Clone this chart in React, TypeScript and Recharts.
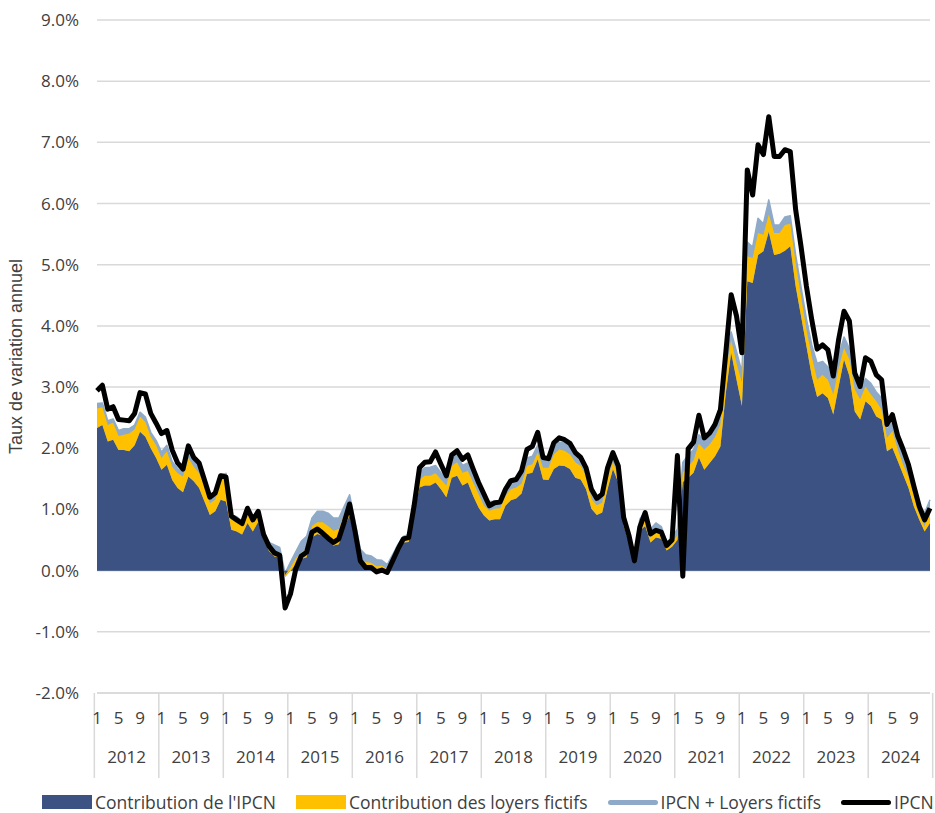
import { Area, CartesianGrid, ComposedChart, Line, XAxis, YAxis } from 'recharts'

const years = [2012, 2013, 2014, 2015, 2016, 2017, 2018, 2019, 2020, 2021, 2022, 2023, 2024]
const months = [1, 2, 3, 4, 5, 6, 7, 8, 9, 10, 11, 12]
const shownMonths = [1, 5, 9]
const yTicks = [-2, -1, 0, 1, 2, 3, 4, 5, 6, 7, 8, 9]

// contribution de l'IPCN (zone bleue)
const contribIpcn = [
  2.33, 2.38, 2.11, 2.14, 1.97, 1.97, 1.95, 2.05, 2.27, 2.19, 2.0, 1.84,
  1.65, 1.73, 1.48, 1.35, 1.28, 1.54, 1.46, 1.35, 1.13, 0.91, 0.97, 1.16,
  1.13, 0.67, 0.64, 0.59, 0.78, 0.64, 0.8, 0.51, 0.32, 0.23, 0.21, -0.1,
  0.0, 0.1, 0.19, 0.22, 0.54, 0.6, 0.57, 0.52, 0.41, 0.43, 0.71, 0.9,
  0.52, 0.14, 0.08, 0.08, 0.03, 0.04, 0.0, 0.16, 0.33, 0.46, 0.47, 0.95,
  1.36, 1.39, 1.39, 1.44, 1.33, 1.2, 1.52, 1.55, 1.39, 1.44, 1.22, 1.03,
  0.9, 0.82, 0.84, 0.84, 1.06, 1.15, 1.18, 1.26, 1.58, 1.6, 1.82, 1.49,
  1.48, 1.66, 1.72, 1.71, 1.66, 1.52, 1.49, 1.33, 1.01, 0.91, 0.95, 1.33,
  1.66, 1.44, 0.73, 0.46, 0.14, 0.65, 0.73, 0.46, 0.54, 0.52, 0.33, 0.39,
  0.5, 1.45, 1.52, 1.6, 1.85, 1.65, 1.76, 1.87, 2.03, 2.9, 3.56, 3.12,
  2.69, 4.73, 4.7, 5.16, 5.22, 5.54, 5.16, 5.18, 5.23, 5.3, 4.65, 4.16,
  3.67, 3.18, 2.84, 2.9, 2.82, 2.55, 3.01, 3.45, 3.18, 2.6, 2.47, 2.77,
  2.69, 2.52, 2.47, 1.95, 2.01, 1.79, 1.57, 1.35, 1.05, 0.83, 0.64, 0.78,
]

// contribution des loyers fictifs (zone jaune)
const contribLoyers = [
  0.32, 0.29, 0.27, 0.28, 0.23, 0.25, 0.29, 0.26, 0.25, 0.24, 0.19, 0.21,
  0.19, 0.22, 0.22, 0.24, 0.26, 0.3, 0.24, 0.24, 0.25, 0.19, 0.19, 0.32,
  0.38, 0.16, 0.16, 0.16, 0.16, 0.14, 0.11, 0.08, 0.05, 0.07, 0.02, 0.03,
  0.05, 0.1, 0.11, 0.13, 0.19, 0.19, 0.22, 0.21, 0.24, 0.25, 0.21, 0.19,
  0.11, 0.05, 0.06, 0.05, 0.04, 0.04, 0.03, 0.03, 0.03, 0.04, 0.06, 0.08,
  0.13, 0.16, 0.16, 0.15, 0.16, 0.19, 0.19, 0.22, 0.21, 0.19, 0.22, 0.22,
  0.16, 0.16, 0.17, 0.18, 0.16, 0.18, 0.18, 0.16, 0.13, 0.14, 0.11, 0.19,
  0.2, 0.24, 0.26, 0.25, 0.24, 0.25, 0.22, 0.22, 0.16, 0.16, 0.16, 0.19,
  0.11, 0.11, 0.09, 0.06, 0.02, 0.11, 0.11, 0.08, 0.11, 0.08, 0.05, 0.07,
  0.08, 0.15, 0.18, 0.2, 0.23, 0.33, 0.3, 0.32, 0.36, 0.33, 0.21, 0.27,
  0.38, 0.41, 0.41, 0.36, 0.27, 0.28, 0.36, 0.34, 0.42, 0.37, 0.38, 0.32,
  0.27, 0.32, 0.28, 0.3, 0.3, 0.33, 0.3, 0.19, 0.27, 0.36, 0.33, 0.24,
  0.19, 0.25, 0.16, 0.22, 0.27, 0.19, 0.16, 0.19, 0.17, 0.09, 0.08, 0.22,
]

// IPCN + loyers fictifs
const ipcnLoyers = [
  2.73, 2.74, 2.45, 2.48, 2.29, 2.32, 2.32, 2.38, 2.59, 2.51, 2.26, 2.13,
  1.94, 2.05, 1.78, 1.67, 1.6, 1.95, 1.78, 1.69, 1.45, 1.2, 1.24, 1.57,
  1.59, 0.91, 0.88, 0.81, 1.01, 0.85, 0.99, 0.66, 0.46, 0.42, 0.38, -0.04,
  0.14, 0.31, 0.48, 0.56, 0.86, 0.97, 0.97, 0.94, 0.86, 0.86, 1.05, 1.24,
  0.81, 0.35, 0.26, 0.24, 0.18, 0.17, 0.1, 0.26, 0.43, 0.56, 0.59, 1.11,
  1.61, 1.68, 1.69, 1.72, 1.6, 1.51, 1.84, 1.9, 1.72, 1.76, 1.57, 1.38,
  1.19, 1.13, 1.13, 1.12, 1.35, 1.44, 1.47, 1.54, 1.84, 1.87, 2.05, 1.8,
  1.8, 2.02, 2.1, 2.09, 2.02, 1.88, 1.82, 1.64, 1.27, 1.17, 1.2, 1.62,
  1.85, 1.64, 0.92, 0.62, 0.24, 0.84, 0.97, 0.68, 0.78, 0.72, 0.47, 0.54,
  0.68, 1.77, 1.89, 1.98, 2.22, 2.13, 2.21, 2.32, 2.54, 3.41, 3.9, 3.58,
  3.25, 5.37, 5.29, 5.76, 5.67, 6.06, 5.65, 5.65, 5.78, 5.8, 5.16, 4.64,
  4.12, 3.69, 3.39, 3.42, 3.33, 3.14, 3.52, 3.82, 3.63, 3.14, 2.98, 3.14,
  3.06, 2.92, 2.82, 2.3, 2.43, 2.11, 1.89, 1.67, 1.34, 1.07, 0.94, 1.16,
]

// IPCN
const ipcn = [
  2.94, 3.03, 2.64, 2.68, 2.47, 2.46, 2.45, 2.57, 2.91, 2.89, 2.57, 2.41,
  2.24, 2.29, 1.97, 1.76, 1.66, 2.04, 1.85, 1.76, 1.48, 1.2, 1.27, 1.55,
  1.53, 0.89, 0.83, 0.77, 1.02, 0.83, 0.97, 0.59, 0.4, 0.29, 0.25, -0.61,
  -0.38, 0.03, 0.24, 0.3, 0.63, 0.68, 0.61, 0.53, 0.46, 0.52, 0.79, 1.09,
  0.65, 0.16, 0.05, 0.05, -0.02, 0.01, -0.03, 0.16, 0.35, 0.52, 0.54, 1.06,
  1.68, 1.77, 1.78, 1.94, 1.74, 1.55, 1.89, 1.96, 1.82, 1.89, 1.66, 1.44,
  1.25, 1.06, 1.11, 1.12, 1.33, 1.47, 1.49, 1.63, 1.98, 2.03, 2.26, 1.85,
  1.83, 2.09, 2.17, 2.14, 2.08, 1.93, 1.85, 1.68, 1.33, 1.18, 1.25, 1.68,
  1.93, 1.71, 0.87, 0.57, 0.16, 0.71, 0.95, 0.6, 0.66, 0.63, 0.41, 0.5,
  1.88, -0.09, 1.99, 2.1, 2.54, 2.17, 2.25, 2.39, 2.63, 3.56, 4.51, 4.16,
  3.56, 6.55, 6.14, 6.96, 6.8, 7.42, 6.77, 6.77, 6.88, 6.85, 5.9, 5.3,
  4.65, 4.1, 3.62, 3.69, 3.61, 3.18, 3.78, 4.24, 4.08, 3.23, 3.01, 3.48,
  3.42, 3.2, 3.12, 2.39, 2.55, 2.2, 1.98, 1.73, 1.38, 1.05, 0.83, 1.02,
]

const data = years.flatMap((yr, i) =>
  months.map((mo, j) => {
    const k = i * 12 + j
    return {
      key: `${yr}-${mo}`,
      year: yr,
      month: mo,
      contribIpcn: contribIpcn[k],
      contribLoyers: contribLoyers[k],
      ipcnLoyers: ipcnLoyers[k],
      ipcn: ipcn[k],
    }
  })
)

const W = 935
const H = 813
const PLOT_LEFT = 97
const PLOT_RIGHT = 930
const AXIS_Y = 693
const FONT = "'Open Sans', sans-serif"
const TEXT = '#404040'
const GRID = '#d9d9d9'

const BLUE = '#3b5282'
const YELLOW = '#ffc000'
const LIGHT_BLUE = '#8eaac8'

function MonthTick(props: any) {
  const { x, y, payload, index } = props
  const d = data[index]
  if (!d) return null
  const half = payload?.offset || (PLOT_RIGHT - PLOT_LEFT) / data.length / 2
  const last = index === data.length - 1
  return (
    <g>
      {d.month === 1 && <line x1={x - half} x2={x - half} y1={y} y2={y + 85} stroke={GRID} strokeWidth={1.5} />}
      {last && <line x1={x + half} x2={x + half} y1={y} y2={y + 85} stroke={GRID} strokeWidth={1.5} />}
      {shownMonths.includes(d.month) && (
        <text x={x} y={y + 31} textAnchor="middle" fill={TEXT} fontSize={17} fontFamily={FONT}>
          {d.month}
        </text>
      )}
      {d.month === 7 && (
        <text x={x - half} y={y + 70} textAnchor="middle" fill={TEXT} fontSize={17} fontFamily={FONT}>
          {d.year}
        </text>
      )}
    </g>
  )
}

function AxisTitle(props: any) {
  const vb = props.viewBox
  const cy = vb.y + vb.height / 2
  return (
    <text
      transform={`translate(16, ${cy}) rotate(-90)`}
      textAnchor="middle"
      dominantBaseline="central"
      fill={TEXT}
      fontSize={18}
      fontFamily="'Liberation Sans', Arial, sans-serif"
    >
      Taux de variation annuel
    </text>
  )
}

const legendItems = [
  { label: "Contribution de l'IPCN", color: BLUE, kind: 'box' },
  { label: 'Contribution des loyers fictifs', color: YELLOW, kind: 'box' },
  { label: 'IPCN + Loyers fictifs', color: LIGHT_BLUE, kind: 'line' },
  { label: 'IPCN', color: '#000', kind: 'line' },
]

function ChartLegend() {
  return (
    <div
      style={{
        position: 'absolute',
        left: 42,
        top: 790,
        display: 'flex',
        alignItems: 'center',
        gap: 20,
        fontFamily: FONT,
        fontSize: 17.5,
        color: TEXT,
        whiteSpace: 'nowrap',
      }}
    >
      {legendItems.map((it) => (
        <div key={it.label} style={{ display: 'flex', alignItems: 'center' }}>
          {it.kind === 'box' ? (
            <span style={{ width: 50, height: 14, background: it.color, marginRight: 3 }} />
          ) : (
            <span style={{ width: 50, height: 5, borderRadius: 3, background: it.color, marginRight: 3 }} />
          )}
          <span>{it.label}</span>
        </div>
      ))}
    </div>
  )
}

export default function App() {
  return (
    <div style={{ position: 'absolute', left: 0, top: 0, width: W, height: H, background: '#fff', fontFamily: FONT }}>
      <ComposedChart
        width={W}
        height={H}
        data={data}
        margin={{ top: 20, right: W - PLOT_RIGHT, bottom: 0, left: 0 }}
      >
        <CartesianGrid vertical={false} stroke={GRID} strokeWidth={1.5} />
        <XAxis
          dataKey="key"
          height={H - AXIS_Y}
          interval={0}
          tickLine={false}
          tickSize={0}
          tickMargin={0}
          axisLine={{ stroke: GRID, strokeWidth: 1.5 }}
          tick={<MonthTick />}
        />
        <YAxis
          width={PLOT_LEFT}
          domain={[-2, 9]}
          ticks={yTicks}
          interval={0}
          axisLine={false}
          tickLine={false}
          tickMargin={12}
          tick={{ fill: TEXT, fontSize: 17, fontFamily: FONT }}
          tickFormatter={(v: number) => `${v.toFixed(1)}%`}
          label={{ content: <AxisTitle /> }}
        />
        {/* IPCN + loyers fictifs drawn as a light band behind the stacked contributions */}
        <Area
          type="linear"
          dataKey="ipcnLoyers"
          fill={LIGHT_BLUE}
          fillOpacity={1}
          stroke={LIGHT_BLUE}
          strokeWidth={1.5}
          strokeLinejoin="round"
          isAnimationActive={false}
        />
        <Area
          type="linear"
          dataKey="contribIpcn"
          stackId="s"
          fill={BLUE}
          fillOpacity={1}
          stroke="none"
          isAnimationActive={false}
        />
        <Area
          type="linear"
          dataKey="contribLoyers"
          stackId="s"
          fill={YELLOW}
          fillOpacity={1}
          stroke="none"
          isAnimationActive={false}
        />
        <Line
          type="linear"
          dataKey="ipcn"
          stroke="#000"
          strokeWidth={5}
          strokeLinejoin="round"
          dot={false}
          isAnimationActive={false}
        />
      </ComposedChart>
      <ChartLegend />
    </div>
  )
}
